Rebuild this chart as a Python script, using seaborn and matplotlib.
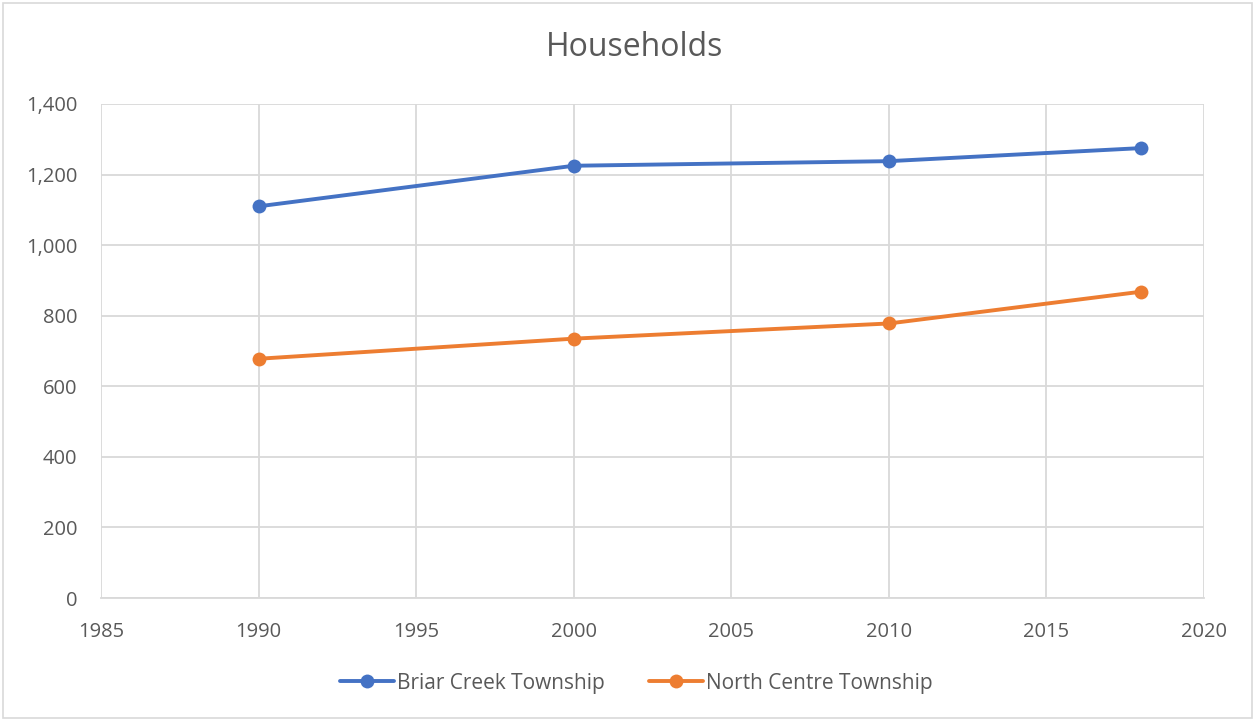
import pandas as pd
import matplotlib.pyplot as plt
import seaborn as sns

# Data
years = [1990, 2000, 2010, 2018]
briar_creek = [1110, 1225, 1238, 1275]
north_centre = [678, 735, 778, 868]
series_names = ["Briar Creek Township", "North Centre Township"]
colors = ["#4472C4", "#ED7D31"]

df = pd.DataFrame({
    "year": years * 2,
    "households": briar_creek + north_centre,
    "township": [series_names[0]] * len(years) + [series_names[1]] * len(years),
})

sns.set_style("whitegrid")
plt.rcParams['font.family'] = ['Open Sans', 'DejaVu Sans']

text_color = "#595959"
grid_color = "#D9D9D9"

fig = plt.figure(figsize=(12.55, 7.19), dpi=100)
ax = fig.add_axes([101 / 1255, 1 - 598 / 719, (1204 - 101) / 1255, (598 - 104) / 719])

sns.lineplot(data=df, x="year", y="households", hue="township",
             palette=colors, marker="o", markersize=10, linewidth=2.8,
             markeredgewidth=0, ax=ax, legend=True)

ax.set_xlim(1985, 2020)
ax.set_ylim(0, 1400)
ax.set_xticks(range(1985, 2021, 5))
ax.set_yticks(range(0, 1401, 200))
ax.set_yticklabels([f"{v:,}" for v in range(0, 1401, 200)])
ax.grid(True, color=grid_color, linewidth=1.3)
ax.tick_params(axis="both", colors=text_color, labelsize=14.5, length=0)
ax.tick_params(axis="x", pad=17)
ax.tick_params(axis="y", pad=17)
for lbl in ax.get_xticklabels() + ax.get_yticklabels():
    lbl.set_color(text_color)
for side in ["top", "right", "left"]:
    ax.spines[side].set_visible(False)
ax.spines["bottom"].set_color(grid_color)
ax.spines["bottom"].set_linewidth(1.3)
ax.set_xlabel("")
ax.set_ylabel("")

fig.text(0.5055, 1 - 48 / 719, "Households", ha="center", va="center",
         fontsize=23, color=text_color)

handles, labels = ax.get_legend_handles_labels()
ax.legend_.remove()
fig.legend(handles, labels, loc="center", bbox_to_anchor=(0.507, 1 - 683 / 719),
           ncol=2, frameon=False, fontsize=15, labelcolor=text_color,
           handlelength=2.6, handletextpad=0.15, columnspacing=2.1)

# light outer border like the chart area
fig.patches.append(plt.Rectangle((0.002, 0.002), 0.996, 0.994, transform=fig.transFigure,
                                 fill=False, edgecolor=grid_color, linewidth=1.2))

plt.savefig("out.png", dpi=100)
